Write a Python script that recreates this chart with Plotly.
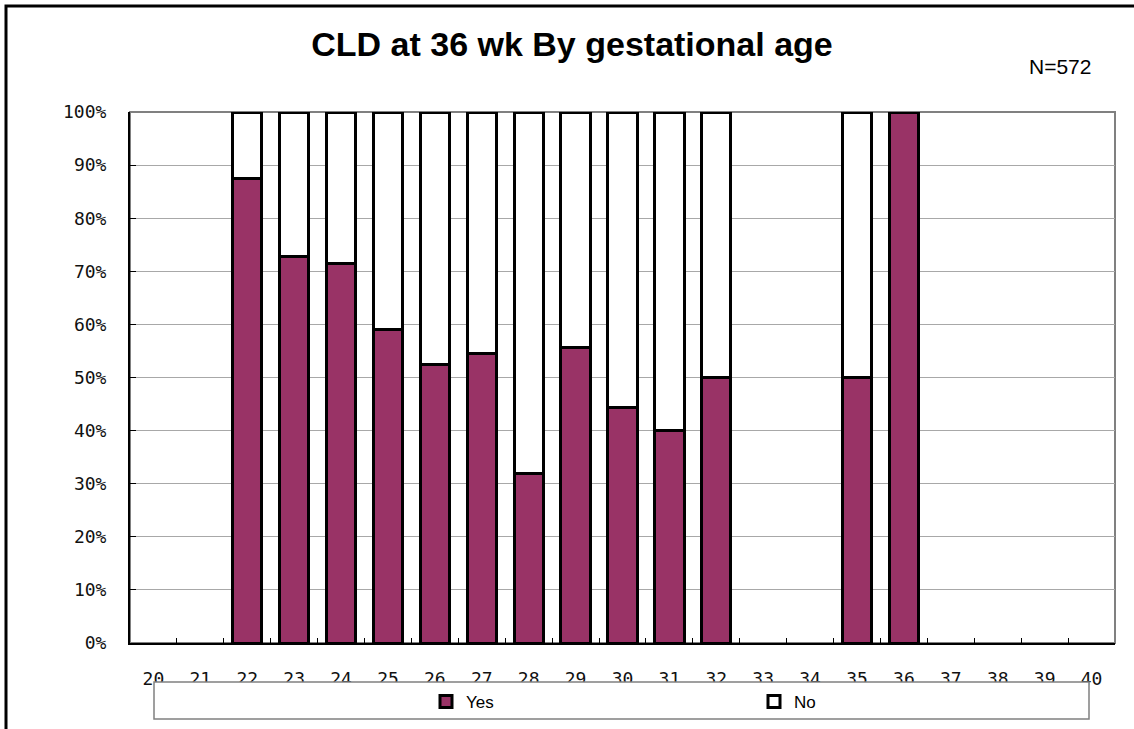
import plotly.graph_objects as go

# Gestational age (weeks) and share of infants with / without CLD at 36 weeks (%)
weeks = [str(w) for w in range(20, 41)]
yes_pct = [None, None, 87.5, 72.7, 71.4, 59.1, 52.4, 54.5, 31.9, 55.7, 44.4,
           40.0, 50.0, None, None, 50.0, 100.0, None, None, None, None]
no_pct = [None, None, 12.5, 27.3, 28.6, 40.9, 47.6, 45.5, 68.1, 44.3, 55.6,
          60.0, 50.0, None, None, 50.0, None, None, None, None, None]
y_ticks = list(range(0, 101, 10))
y_tick_labels = ["0%", "10%", "20%", "30%", "40%", "50%",
                 "60%", "70%", "80%", "90%", "100%"]

W, H = 1134, 729
L, R, T, B = 130, 19, 112, 86
PW, PH = W - L - R, H - T - B


def px(x):
    return (x - L) / PW


def py(y):
    return (H - B - y) / PH


sans = "Liberation Sans, Arial, sans-serif"
mono = "DejaVu Sans Mono, monospace"

fig = go.Figure()
fig.add_trace(go.Bar(
    x=weeks, y=yes_pct, name="Yes",
    marker=dict(color="#993366", line=dict(color="black", width=3)),
))
fig.add_trace(go.Bar(
    x=weeks, y=no_pct, name="No",
    marker=dict(color="white", line=dict(color="black", width=3)),
))

fig.update_layout(
    width=W, height=H,
    margin=dict(l=L, r=R, t=T, b=B, autoexpand=False),
    paper_bgcolor="white", plot_bgcolor="white",
    barmode="stack", bargap=0.375,
    title=dict(
        text="<b>CLD at 36 wk By gestational age</b>",
        x=572 / W, xanchor="center",
        y=1 - 44 / H, yanchor="middle", yref="container",
        font=dict(family=sans, size=34, color="black"),
    ),
    showlegend=True,
    legend=dict(
        orientation="h",
        x=px(426), xanchor="left",
        y=py(702), yanchor="middle",
        entrywidth=283, entrywidthmode="pixels",
        bgcolor="rgba(0,0,0,0)", borderwidth=0,
        font=dict(family=sans, size=17, color="black"),
        traceorder="normal",
    ),
    xaxis=dict(
        type="category",
        showline=True, linecolor="black", linewidth=2,
        ticks="inside", ticklen=5, tickcolor="black", tickwidth=1,
        tickson="boundaries",
        showgrid=False,
        tickfont=dict(family=mono, size=18, color="#111111"),
        ticklabelstandoff=18,
    ),
    yaxis=dict(
        range=[0, 100],
        tickmode="array", tickvals=y_ticks, ticktext=y_tick_labels,
        showline=True, linecolor="black", linewidth=2,
        ticks="inside", ticklen=6, tickcolor="black", tickwidth=1,
        showgrid=True, gridcolor="#a8a8a8", gridwidth=1,
        zeroline=False,
        tickfont=dict(family=mono, size=18, color="#111111"),
        ticklabelstandoff=18,
    ),
    shapes=[
        # plot-area frame (top and right edges show in grey)
        dict(type="rect", xref="paper", yref="paper", x0=0, x1=1, y0=0, y1=1,
             line=dict(color="#808080", width=2), layer="below"),
        # legend box
        dict(type="rect", xref="paper", yref="paper",
             x0=px(154), x1=px(1089), y0=py(719), y1=py(682),
             line=dict(color="#808080", width=1.5), fillcolor="white",
             layer="above"),
        # chart border
        dict(type="rect", xref="paper", yref="paper",
             x0=px(6), x1=px(1200), y0=py(800), y1=py(6),
             line=dict(color="black", width=3), layer="above"),
    ],
    annotations=[
        dict(text="N=572", xref="paper", yref="paper",
             x=px(1060), y=py(66), xanchor="center", yanchor="middle",
             showarrow=False, font=dict(family=sans, size=21, color="black")),
    ],
)

fig.write_html("out.html")
